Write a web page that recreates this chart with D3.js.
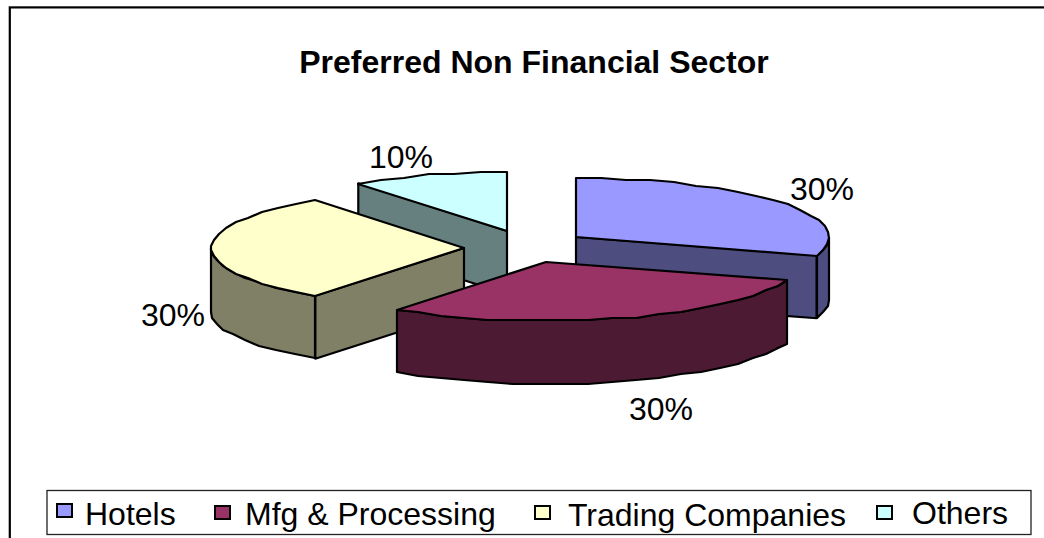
<!DOCTYPE html>
<html>
<head>
<meta charset="utf-8">
<script src="https://cdnjs.cloudflare.com/ajax/libs/d3/7.8.5/d3.min.js"></script>
<style>
  html, body { margin: 0; padding: 0; background: #fff; overflow: hidden; }
  text { font-family: "Liberation Sans", Arial, sans-serif; fill: #000; }
</style>
</head>
<body>
<div id="chart"></div>
<script>
var categories = ["Hotels", "Mfg & Processing", "Trading Companies", "Others"];
var values = [30, 30, 30, 10];
var tickLabels = ["30%", "30%", "30%", "10%"];
var topColors = ["#9999ff", "#993366", "#ffffcc", "#ccffff"];
var sideColors = ["#4d4d80", "#4d1a33", "#808066", "#668080"];

// apex of each exploded slice, where the slice tips sit on the picture
var apexes = [[576, 237], [546, 262], [464, 248], [507, 231]];
var labelPos = [[822, 200], [661, 420], [173, 326], [401, 168]];
var legendSwatch = [[57, 504], [215, 506], [535, 506], [877, 506]];
var legendText = [[85, 525], [245, 525], [568, 526], [912, 524]];
// slices drawn back to front
var drawOrder = [3, 0, 2, 1];
// which cut edge of a slice faces the viewer
var cutFace = ["endAngle", null, "startAngle", "startAngle"];

var w = 1044, h = 538;
var rx = 253, ry = 59, depth = 63;

var svg = d3.select("#chart").append("svg")
  .attr("width", w)
  .attr("height", h);

// chart frame, runs off the right and bottom of the picture
svg.append("rect")
  .attr("x", 9.8).attr("y", 7.4)
  .attr("width", 1100).attr("height", 600)
  .attr("fill", "#fff").attr("stroke", "#000").attr("stroke-width", 2.2);

svg.append("text")
  .attr("x", 534).attr("y", 73)
  .attr("text-anchor", "middle")
  .attr("font-size", 32).attr("font-weight", "bold")
  .text("Preferred Non Financial Sector");

var slices = d3.pie().sort(null)(values);
var line = d3.line();

function pt(i, a, dz) {
  var c = apexes[i];
  return [c[0] + rx * Math.sin(a), c[1] - ry * Math.cos(a) + (dz || 0)];
}

// the old renderer drew the rim as short straight pieces, snapped to a coarse grid
function rim(i, a0, a1, dz) {
  var n = Math.max(1, Math.round(Math.abs(a1 - a0) / 0.1));
  return d3.range(n + 1).map(function(k) {
    var p = pt(i, a0 + (a1 - a0) * k / n, dz);
    return [Math.round(p[0]), Math.round(p[1] / 2) * 2];
  });
}

function drawFace(g, pts, fill) {
  g.append("path")
    .attr("d", line(pts) + "Z")
    .attr("fill", fill)
    .attr("stroke", "#000")
    .attr("stroke-width", 2.2)
    .attr("stroke-linejoin", "round");
}

drawOrder.forEach(function(i) {
  var s = slices[i];
  var g = svg.append("g").attr("class", "slice");
  var c = apexes[i];
  var side = sideColors[i];

  if (cutFace[i]) {
    var e = pt(i, s[cutFace[i]], 0);
    drawFace(g, [c, e, [e[0], e[1] + depth], [c[0], c[1] + depth]], side);
  }

  // outer rim, only the part on the near side
  var r0 = Math.max(s.startAngle, Math.PI / 2);
  var r1 = Math.min(s.endAngle, 1.5 * Math.PI);
  if (r1 > r0) {
    drawFace(g, rim(i, r0, r1, 0).concat(rim(i, r1, r0, depth)), side);
  }

  // top face
  drawFace(g, [c].concat(rim(i, s.startAngle, s.endAngle, 0)), topColors[i]);
});

// percent labels
svg.selectAll("text.pct")
  .data(tickLabels)
  .enter().append("text")
  .attr("class", "pct")
  .attr("x", function(d, i) { return labelPos[i][0]; })
  .attr("y", function(d, i) { return labelPos[i][1]; })
  .attr("text-anchor", "middle")
  .attr("font-size", 32)
  .text(function(d) { return d; });

// legend
svg.append("rect")
  .attr("x", 47).attr("y", 490.5)
  .attr("width", 984).attr("height", 44)
  .attr("fill", "#fff").attr("stroke", "#222").attr("stroke-width", 1.3);

categories.forEach(function(name, i) {
  svg.append("rect")
    .attr("x", legendSwatch[i][0]).attr("y", legendSwatch[i][1])
    .attr("width", 15).attr("height", 13)
    .attr("fill", topColors[i]).attr("stroke", "#000").attr("stroke-width", 2);
  svg.append("text")
    .attr("x", legendText[i][0]).attr("y", legendText[i][1])
    .attr("font-size", 32)
    .text(name);
});
</script>
</body>
</html>
